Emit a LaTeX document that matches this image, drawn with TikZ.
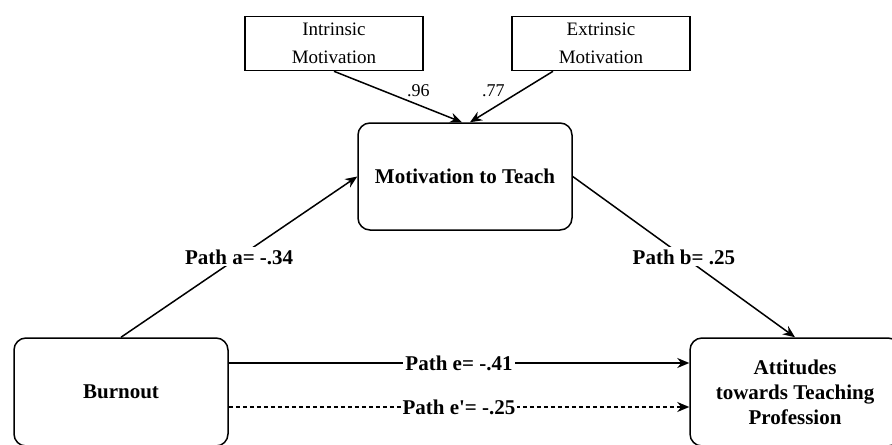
\documentclass[tikz,border=0pt]{standalone}
\usepackage{fontspec}
\setmainfont{Liberation Serif}
\usepackage{tikz}
\usetikzlibrary{arrows.meta, positioning}
\tikzset{>={Stealth[length=6pt, width=5pt]}}
\tikzset{
  roundbox/.style = {draw, rounded corners=6pt, line width=0.75pt, align=center, font=\fontsize{10.5}{12}\selectfont\bfseries},
  smallbox/.style = {draw, line width=0.75pt, align=center, minimum width=89pt, minimum height=26.5pt, font=\fontsize{9.5}{14}\selectfont},
  pathlabel/.style = {midway, fill=white, inner sep=1pt, font=\fontsize{10.5}{12}\selectfont\bfseries},
  loadlabel/.style = {inner sep=1pt, font=\fontsize{9}{10}\selectfont},
  link/.style = {->, line width=0.75pt}
}

\begin{document}
\begin{tikzpicture}[x=0.5pt, y=-0.5pt]

	\useasboundingbox (0,0) rectangle (892,444);

	% constructs
	\node [roundbox, minimum width=107pt, minimum height=54pt] (burn) at (121,392) {Burnout};
	\node [roundbox, minimum width=107pt, minimum height=53.5pt] (motiv) at (465,176.5) {Motivation to Teach};
	\node [roundbox, minimum width=105pt, minimum height=54pt, font=\fontsize{10.5}{12.5}\selectfont\bfseries] (att) at (795,392) {Attitudes\\towards Teaching\\Profession};

	% indicators
	\node [smallbox] (intr) at (334,43.5) {Intrinsic\\Motivation};
	\node [smallbox] (extr) at (601,43.5) {Extrinsic\\Motivation};

	\draw [link] (intr.south) -- ([xshift=-1.5pt]motiv.north) node[loadlabel, pos=0.55, above right] {.96};
	\draw [link] ([xshift=-24pt]extr.south) -- ([xshift=2.5pt]motiv.north) node[loadlabel, pos=0.55, above left] {.77};

	% paths
	\draw [link] (burn.north) -- (motiv.west) node[pathlabel] {Path a= -.34};
	\draw [link] (motiv.east) -- (att.north) node[pathlabel] {Path b= .25};
	\draw [link] ([yshift=14.5pt]burn.east) -- ([yshift=14.5pt]att.west) node[pathlabel] {Path e= -.41};
	\draw [link, dash pattern=on 2pt off 1.5pt] ([yshift=-7.5pt]burn.east) -- ([yshift=-7.5pt]att.west) node[pathlabel] {Path e\textquotesingle= -.25};

\end{tikzpicture}
\end{document}
